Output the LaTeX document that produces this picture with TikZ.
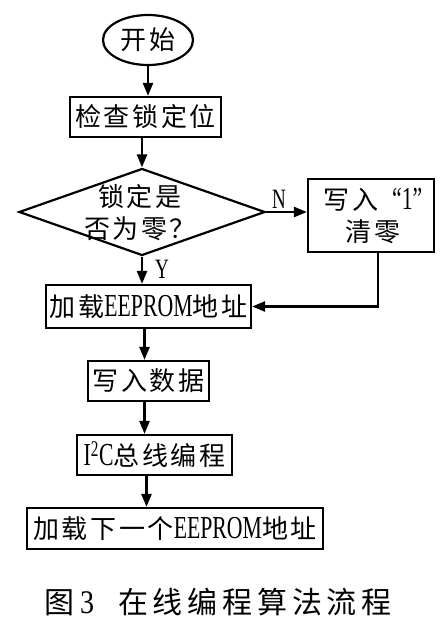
\documentclass[tikz,border=0pt]{standalone}
\usepackage{fontspec}
\setmainfont{Liberation Serif}
\newfontfamily\cjk[LetterSpace=10]{Noto Sans CJK SC}
\newfontfamily\cjkcap[LetterSpace=16]{Noto Sans CJK SC}
\newfontfamily\latc[FakeStretch=0.68]{Liberation Serif}
\newfontfamily\latd[FakeStretch=0.85]{Liberation Serif}
\newcommand\lat[1]{{\latc\fontsize{32}{34}\selectfont #1}}
\usetikzlibrary{shapes.geometric,arrows.meta}
\tikzset{
  stepbox/.style={draw, line width=2.2pt, rectangle, inner sep=0pt, font=\fontsize{26}{29}\selectfont},
  flow/.style={line width=2.4pt, -{Triangle[length=13pt,width=10pt]}},
  lbl/.style={font=\latc\fontsize{28}{29}\selectfont, inner sep=0pt},
}
\begin{document}
\begin{tikzpicture}[x=1pt,y=-1pt]
\useasboundingbox (0,0) rectangle (446,629);
\node[draw, ellipse, line width=2.2pt, minimum width=90pt, minimum height=50pt, inner sep=0pt,
      font=\fontsize{26}{29}\selectfont] (start) at (148,40) {\cjk 开始};
\node[stepbox, minimum width=151pt, minimum height=40pt] (b1) at (145.5,117) {\cjk 检查锁定位};
\node[draw, diamond, line width=2.2pt, minimum width=246pt, minimum height=87pt, inner sep=0pt] (d) at (142,212) {};
\node[font=\fontsize{26}{32}\selectfont, align=center, inner sep=0pt] (dt) at (140,213) {\cjk 锁定是\\\cjk 否为零？};
\node[stepbox, minimum width=126pt, minimum height=73pt] (b2) at (371,215.5) {};
\node[font=\fontsize{26}{32}\selectfont, align=center, inner sep=0pt] (b2t) at (373,216) {{\cjk 写入}\hspace{14pt}\lat{“1”}\\{\cjk 清零}};
\node[stepbox, minimum width=205pt, minimum height=43pt] (b3) at (148.5,306.5) {{\cjk 加载}\lat{EEPROM}{\cjk 地址}};
\node[stepbox, minimum width=121pt, minimum height=40pt] (b4) at (148.5,381) {\cjk 写入数据};
\node[stepbox, minimum width=155pt, minimum height=40pt] (b5) at (154.5,455) {\lat{I\textsuperscript{2}C}{\cjk 总线编程}};
\node[stepbox, minimum width=296pt, minimum height=41pt] (b6) at (175,528.5) {{\cjk 加载下一个}\lat{EEPROM}{\cjk 地址}};
\node[lbl] (nl) at (279,199) {N};
\node[lbl] (yl) at (162,269) {Y};
\node[font=\fontsize{30}{32}\selectfont, inner sep=0pt] (cap) at (218,602) {{\cjk 图}\hspace{6pt}{\latd\fontsize{33}{34}\selectfont 3}\hspace{24pt}{\cjkcap 在线编程算法流程}};
\draw[flow] (start.south) -- (start.south |- b1.north);
\draw[flow] (d.north |- b1.south) -- (d.north);
\draw[flow] (d.east) -- (d.east -| b2.west);
\draw[flow] (d.south) -- (d.south |- b3.north);
\draw[flow] ([xshift=7pt]b2.south) |- (b3.east);
\draw[flow] ([xshift=-4pt]b3.south) -- ([xshift=-4pt]b3.south |- b4.north);
\draw[flow] ([xshift=-4pt]b4.south) -- ([xshift=-4pt]b4.south |- b5.north);
\draw[flow] ([xshift=-8pt]b5.south) -- ([xshift=-8pt]b5.south |- b6.north);
\end{tikzpicture}
\end{document}
